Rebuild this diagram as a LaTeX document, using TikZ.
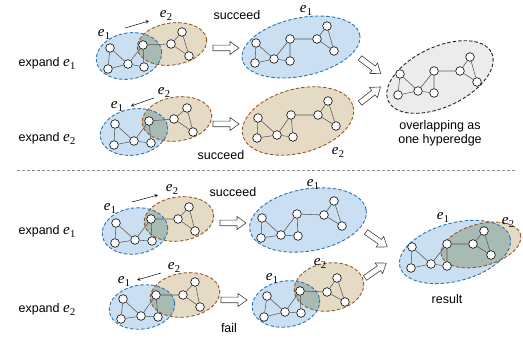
\documentclass[tikz,border=0pt]{standalone}
\usepackage{fontspec}
\setmainfont{Liberation Sans}
\newfontfamily\efont{Liberation Serif}
\definecolor{bfill}{RGB}{202,223,241}
\definecolor{bline}{RGB}{46,117,182}
\definecolor{rfill}{RGB}{229,219,197}
\definecolor{rline}{RGB}{150,88,45}
\definecolor{ofill}{RGB}{168,186,180}
\definecolor{gfill}{RGB}{236,236,236}
\newcommand{\ee}[1]{{\efont\fontsize{15}{16}\selectfont\itshape e\kern0.4pt\raisebox{-3pt}{\fontsize{10.5}{11}\selectfont\upshape #1}}}
\tikzset{
  vtx/.style={circle,draw=black,fill=white,line width=0.6pt,minimum size=8.6pt,inner sep=0pt},
  gedge/.style={draw=black!65,line width=0.55pt},
  hdash/.style={line width=0.9pt,dash pattern=on 3.5pt off 2pt},
  lbl/.style={font=\fontsize{12.5}{14}\selectfont},
  elab/.style={inner sep=1pt},
  smallarr/.style={-stealth,line width=0.5pt,black},
  hollowarrow/.pic={\draw[fill=white,line width=0.6pt,draw=black!75,line join=miter]
     (0,-2.8) -- (17,-2.8) -- (17,-6.5) -- (26,0) -- (17,6.5) -- (17,2.8) -- (0,2.8) -- cycle;}
}
\newcommand{\hypfill}[6]{\fill[#1,rotate around={#6:(#2,#3)}] (#2,#3) ellipse [x radius=#4,y radius=#5];}
\newcommand{\hypline}[6]{\draw[#1,hdash,rotate around={#6:(#2,#3)}] (#2,#3) ellipse [x radius=#4,y radius=#5];}
\newcommand{\hypovl}[5]{\clip[rotate around={#5:(#1,#2)}] (#1,#2) ellipse [x radius=#3,y radius=#4];}
\newcommand{\hgraph}[9]{%
  \node[vtx] (#1a) at (#2) {};
  \node[vtx] (#1b) at (#3) {};
  \node[vtx] (#1c) at (#4) {};
  \node[vtx] (#1d) at (#5) {};
  \node[vtx] (#1e) at (#6) {};
  \node[vtx] (#1f) at (#7) {};
  \node[vtx] (#1g) at (#8) {};
  \node[vtx] (#1h) at (#9) {};
  \draw[gedge] (#1a)--(#1b) (#1a)--(#1c) (#1b)--(#1c) (#1c)--(#1d) (#1c)--(#1e)
     (#1e)--(#1d) (#1e)--(#1f) (#1f)--(#1g) (#1f)--(#1h) (#1g)--(#1h);
}
\begin{document}
\begin{tikzpicture}[x=1pt,y=-1pt]
\useasboundingbox (0,0) rectangle (523,342);
\fill[white] (0,0) rectangle (523,342);

% ===== Row 1 =====
\node[lbl] (t1) at (47,63) {expand \ee1};
\hypfill{bfill}{129}{56}{33}{23}{10}
\hypfill{rfill}{172}{44}{35}{21}{8}
\begin{scope}\hypovl{129}{56}{33}{23}{10}\hypfill{ofill}{172}{44}{35}{21}{8}\end{scope}
\hypline{rline}{172}{44}{35}{21}{8}
\hypline{bline}{129}{56}{33}{23}{10}
\hgraph{A}{110,48}{108,69}{128,64}{144,67}{143,45}{171,44}{182,32}{189,56}
\node[elab] (A1) at (104,34) {\ee1};
\node[elab] (A2) at (166,15) {\ee2};
\coordinate (A3) at (125,28); \coordinate (A4) at (149,21);
\draw[smallarr] (A3) -- (A4);
\node[lbl] (s1) at (237,15) {succeed};
\pic at (213,48) {hollowarrow};

\hypfill{bfill}{301}{47}{60}{29}{12}
\hypline{bline}{301}{47}{60}{29}{12}
\hgraph{B}{256,43}{255,63}{274,59}{290,61}{290,39}{317,39}{327,26}{334,51}
\node[elab] (B1) at (306,10) {\ee1};

% ===== Row 2 =====
\node[lbl] (t2) at (47,138) {expand \ee2};
\hypfill{bfill}{134}{132}{34}{23}{10}
\hypfill{rfill}{177}{119}{35}{22}{8}
\begin{scope}\hypovl{134}{132}{34}{23}{10}\hypfill{ofill}{177}{119}{35}{22}{8}\end{scope}
\hypline{rline}{177}{119}{35}{22}{8}
\hypline{bline}{134}{132}{34}{23}{10}
\hgraph{C}{115,124}{114,145}{134,141}{151,143}{149,121}{174,119}{187,108}{193,132}
\node[elab] (C1) at (117,106) {\ee1};
\node[elab] (C2) at (164,92) {\ee2};
\coordinate (C3) at (154,98); \coordinate (C4) at (131,106);
\draw[smallarr] (C3) -- (C4);
\pic at (213,124) {hollowarrow};
\node[lbl] (s2) at (221,155) {succeed};

\hypfill{rfill}{298}{121}{57}{32}{15}
\hypline{rline}{298}{121}{57}{32}{15}
\hgraph{D}{258,118}{257,138}{277,135}{293,137}{291,115}{318,115}{328,101}{336,126}
\node[elab] (D1) at (338,152) {\ee2};

% merge arrows
\pic[rotate=-37] at (360,58) {hollowarrow};
\pic[rotate=38] at (360,103) {hollowarrow};

\hypfill{gfill}{440}{77}{57}{30}{25}
\draw[black!85,hdash,rotate around={25:(440,77)}] (440,77) ellipse [x radius=57,y radius=30];
\hgraph{E}{400,74}{398,95}{418,91}{434,93}{434,71}{460,71}{470,57}{477,82}
\node[lbl,align=center] (ov) at (440,133) {overlapping as\\one hyperedge};

% separator
\coordinate (L1) at (17,170); \coordinate (L2) at (516,170);
\draw[black!45,line width=0.6pt,dash pattern=on 3pt off 2pt] (L1) -- (L2);

% ===== Row 3 =====
\node[lbl] (t3) at (47,231) {expand \ee1};
\hypfill{bfill}{135}{231}{33}{23}{8}
\hypfill{rfill}{179}{219}{35}{22}{8}
\begin{scope}\hypovl{135}{231}{33}{23}{8}\hypfill{ofill}{179}{219}{35}{22}{8}\end{scope}
\hypline{rline}{179}{219}{35}{22}{8}
\hypline{bline}{135}{231}{33}{23}{8}
\hgraph{F}{116,223}{115,243}{135,240}{152,241}{151,219}{178,219}{189,207}{195,231}
\node[elab] (F1) at (110,208) {\ee1};
\node[elab] (F2) at (172,189) {\ee2};
\coordinate (F3) at (132,202); \coordinate (F4) at (158,195);
\draw[smallarr] (F3) -- (F4);
\node[lbl] (s3) at (233,192) {succeed};
\pic at (220,223) {hollowarrow};

\hypfill{bfill}{308}{220}{59}{31}{10}
\hypline{bline}{308}{220}{59}{31}{10}
\hgraph{G}{262,218}{261,238}{281,235}{298,236}{297,214}{324,215}{334,201}{342,226}
\node[elab] (G1) at (313,184) {\ee1};

% ===== Row 4 =====
\node[lbl] (t4) at (47,309) {expand \ee2};
\hypfill{bfill}{142}{307}{33}{22}{8}
\hypfill{rfill}{185}{295}{35}{22}{8}
\begin{scope}\hypovl{142}{307}{33}{22}{8}\hypfill{ofill}{185}{295}{35}{22}{8}\end{scope}
\hypline{rline}{185}{295}{35}{22}{8}
\hypline{bline}{142}{307}{33}{22}{8}
\hgraph{H}{123,299}{121,319}{141,316}{158,317}{156,295}{183,295}{195,282}{200,307}
\node[elab] (H1) at (124,281) {\ee1};
\node[elab] (H2) at (174,267) {\ee2};
\coordinate (H3) at (161,273); \coordinate (H4) at (137,280);
\draw[smallarr] (H3) -- (H4);
\pic at (221,300) {hollowarrow};
\node[lbl] (s4) at (229,328) {fail};

\hypfill{bfill}{286}{304}{34}{23}{8}
\hypfill{rfill}{329}{287}{35}{24}{8}
\begin{scope}\hypovl{286}{304}{34}{23}{8}\hypfill{ofill}{329}{287}{35}{24}{8}\end{scope}
\hypline{rline}{329}{287}{35}{24}{8}
\hypline{bline}{286}{304}{34}{23}{8}
\hgraph{J}{267,296}{264,317}{285,312}{301,313}{300,291}{327,292}{337,278}{345,302}
\node[elab] (J1) at (272,278) {\ee1};
\node[elab] (J2) at (320,263) {\ee2};

% merge arrows bottom
\pic[rotate=-35] at (366,232) {hollowarrow};
\pic[rotate=35] at (365,278) {hollowarrow};

% result
\hypfill{bfill}{455}{252}{57}{29}{15}
\hypfill{rfill}{481}{245}{41}{21}{15}
\begin{scope}\hypovl{455}{252}{57}{29}{15}\hypfill{ofill}{481}{245}{41}{21}{15}\end{scope}
\hypline{rline}{481}{245}{41}{21}{15}
\hypline{bline}{455}{252}{57}{29}{15}
\hgraph{K}{412,247}{411,268}{431,264}{447,266}{447,244}{473,244}{484,231}{491,255}
\node[elab] (K1) at (443,217) {\ee1};
\node[elab] (K2) at (508,222) {\ee2};
\node[lbl] (res) at (447,299) {result};
\end{tikzpicture}
\end{document}
